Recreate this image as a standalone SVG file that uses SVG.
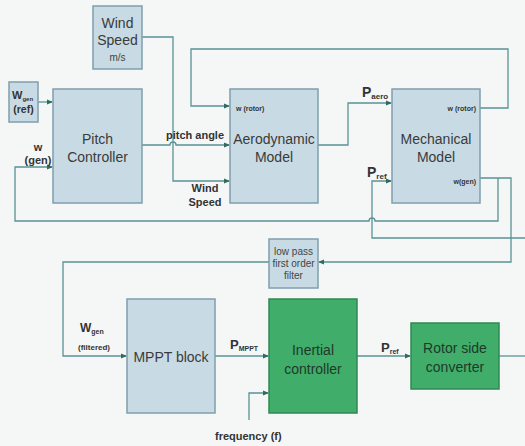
<svg xmlns="http://www.w3.org/2000/svg" width="525" height="446" viewBox="0 0 525 446">
<defs>
<marker id="ar" markerWidth="6" markerHeight="6" refX="5" refY="3" orient="auto" markerUnits="userSpaceOnUse">
<path d="M0,0.5 L6,3 L0,5.5 Z" fill="#2f6b63"/>
</marker>
<style>
.box{fill:#c8dbe4;stroke:#7f9fae;stroke-width:1.5}
.gbox{fill:#41ad6b;stroke:#2f8a52;stroke-width:1.5}
.ln{fill:none;stroke:#5a9396;stroke-width:1.3}
.t{font-family:"Liberation Sans",Arial,sans-serif;font-size:14px;fill:#3a3a3a;text-anchor:middle}
.gt{font-family:"Liberation Sans",Arial,sans-serif;font-size:14px;fill:#1d3a28;text-anchor:middle}
.b{font-family:"Liberation Sans",Arial,sans-serif;font-weight:bold;fill:#333}
.s{font-family:"Liberation Sans",Arial,sans-serif;font-size:10px;fill:#444;text-anchor:middle}
</style>
</defs>
<rect width="525" height="446" fill="#f5f7f7"/>
<g id="connectors">
<!-- wind speed -->
<path class="ln" d="M142,37 H173 V181 H229" marker-end="url(#ar)"/>
<!-- pitch angle -->
<path class="ln" d="M142,145 H170 A3,3 0 0 1 176,145 H229" marker-end="url(#ar)"/>
<!-- rotor feedback -->
<path class="ln" d="M480,108 H508 V49 H191 V106 H229" marker-end="url(#ar)"/>
<!-- Paero -->
<path class="ln" d="M318,145 H348 V103 H391" marker-end="url(#ar)"/>
<!-- w(gen) -->
<path class="ln" d="M480,178 H511 V262 H319" marker-end="url(#ar)"/>
<path class="ln" d="M498,178 V221 H375 A3,3 0 0 0 369,221 H15 V167 H52" marker-end="url(#ar)"/>
<!-- Pref feedback -->
<path class="ln" d="M525,238 H372 V181 H391" marker-end="url(#ar)"/>
<!-- filter to MPPT -->
<path class="ln" d="M269,262 H63 V356 H126" marker-end="url(#ar)"/>
<!-- W gen ref -->
<path class="ln" d="M38,102 H52" marker-end="url(#ar)"/>
<!-- MPPT to inertial -->
<path class="ln" d="M215,356 H268" marker-end="url(#ar)"/>
<!-- frequency -->
<path class="ln" d="M249,420 V393 H268" marker-end="url(#ar)"/>
<!-- inertial to RSC -->
<path class="ln" d="M357,356 H410" marker-end="url(#ar)"/>
<!-- RSC out -->
<path class="ln" d="M499,356 H525"/>
</g>
<g id="wind-speed">
<rect class="box" x="93" y="6" width="49" height="63"/>
<text class="t" x="117.5" y="28">Wind</text>
<text class="t" x="117.5" y="45">Speed</text>
<text class="s" x="117.5" y="61">m/s</text>
</g>
<g id="wgen-ref">
<rect class="box" x="9" y="82" width="29" height="40"/>
<text class="b" x="12" y="99" font-size="11">W<tspan font-size="6" dy="2">gen</tspan></text>
<text class="b" x="23.5" y="113" font-size="10.5" text-anchor="middle">(ref)</text>
</g>
<g id="pitch-controller">
<rect class="box" x="53" y="89" width="89" height="114"/>
<text class="t" x="97.5" y="144">Pitch</text>
<text class="t" x="97.5" y="162">Controller</text>
<text class="b" x="38" y="151" font-size="11" text-anchor="middle">w</text>
<text class="b" x="38" y="164" font-size="11" text-anchor="middle">(gen)</text>
</g>
<g id="aerodynamic-model">
<rect class="box" x="230" y="89" width="88" height="114"/>
<text class="b" x="236" y="111" font-size="7">w (rotor)</text>
<text class="t" x="274" y="144">Aerodynamic</text>
<text class="t" x="274" y="162">Model</text>
<text class="b" x="195" y="139" font-size="11" text-anchor="middle">pitch angle</text>
<text class="b" x="205" y="192" font-size="11" text-anchor="middle">Wind</text>
<text class="b" x="205" y="206" font-size="11" text-anchor="middle">Speed</text>
</g>
<g id="mechanical-model">
<rect class="box" x="392" y="89" width="88" height="114"/>
<text class="b" x="476" y="111" font-size="7" text-anchor="end">w (rotor)</text>
<text class="t" x="436" y="144">Mechanical</text>
<text class="t" x="436" y="162">Model</text>
<text class="b" x="476" y="184" font-size="7" text-anchor="end">w(gen)</text>
<text class="b" x="362" y="97" font-size="14">P<tspan font-size="8" dy="2">aero</tspan></text>
<text class="b" x="367" y="177" font-size="14">P<tspan font-size="8" dy="2">ref</tspan></text>
</g>
<g id="low-pass-filter">
<rect class="box" x="269" y="239" width="49" height="49"/>
<text class="s" x="293.5" y="255">low pass</text>
<text class="s" x="293.5" y="267">first order</text>
<text class="s" x="293.5" y="279">filter</text>
</g>
<g id="mppt-block">
<rect class="box" x="127" y="299" width="88" height="114"/>
<text class="t" x="171" y="362">MPPT block</text>
<text class="b" x="80" y="332" font-size="12">W<tspan font-size="7" dy="2">gen</tspan></text>
<text class="b" x="94" y="350" font-size="8" text-anchor="middle">(filtered)</text>
<text class="b" x="230" y="349" font-size="13">P<tspan font-size="7" dy="2">MPPT</tspan></text>
</g>
<g id="inertial-controller">
<rect class="gbox" x="269" y="299" width="88" height="114"/>
<text class="gt" x="313" y="355">Inertial</text>
<text class="gt" x="313" y="374">controller</text>
<text class="b" x="215" y="440" font-size="11">frequency (f)</text>
</g>
<g id="rotor-side-converter">
<rect class="gbox" x="411" y="323" width="88" height="66"/>
<text class="gt" x="455" y="353">Rotor side</text>
<text class="gt" x="455" y="372">converter</text>
<text class="b" x="381" y="352" font-size="13">P<tspan font-size="7" dy="2">ref</tspan></text>
</g>
</svg>
